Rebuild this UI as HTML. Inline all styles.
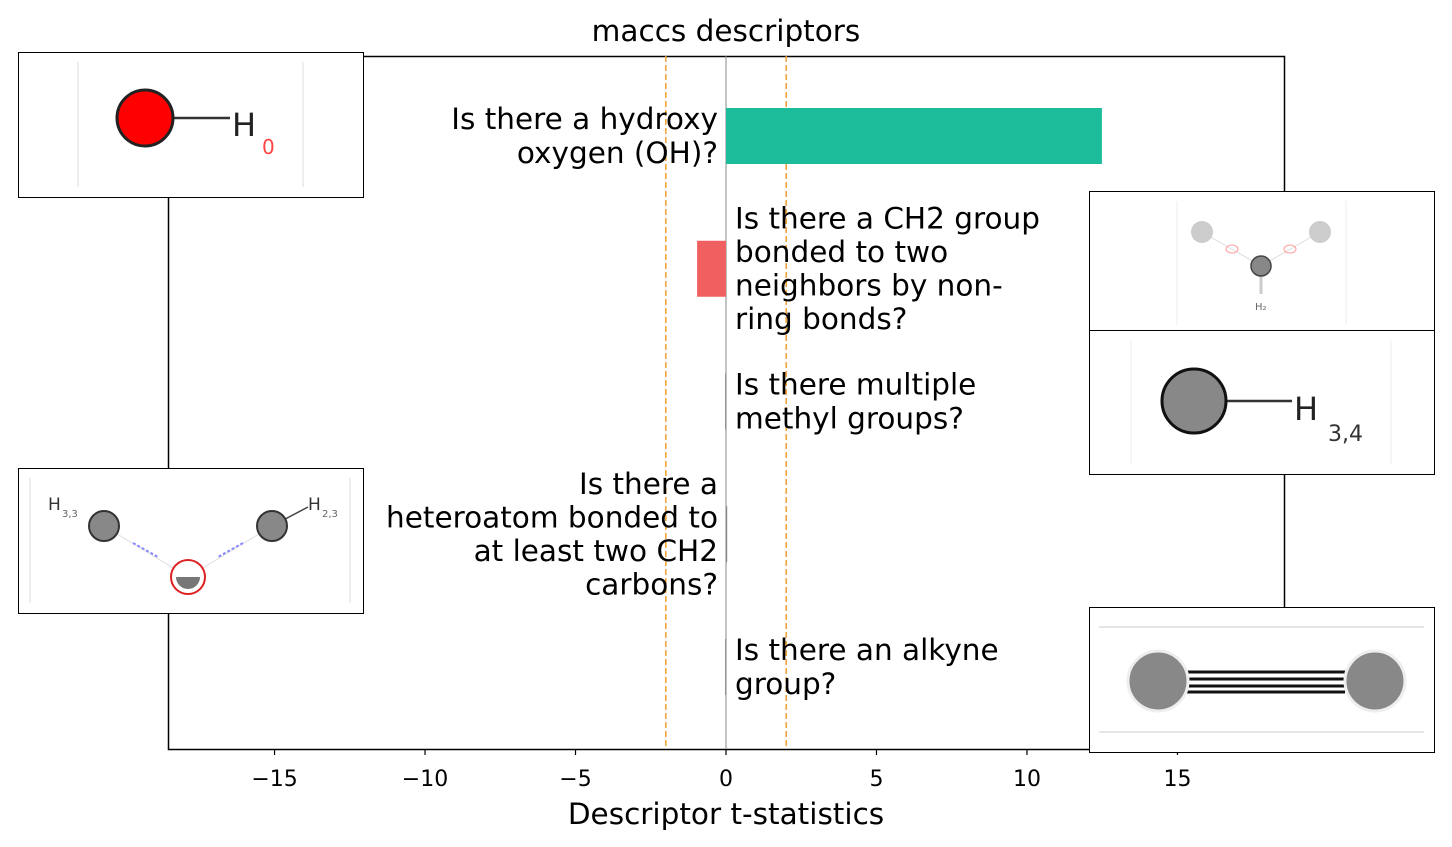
<!DOCTYPE html>
<html><head><meta charset="utf-8"><style>
html,body{margin:0;padding:0;background:#fff;}
svg{display:block;font-family:"DejaVu Sans","Liberation Sans",sans-serif;}
</style></head><body>
<svg id="c" width="1452" height="847" viewBox="0 0 1452 847">
<text x="726" y="41" font-size="29.5" text-anchor="middle">maccs descriptors</text>
<g id="plot"></g>
<text x="726" y="824" font-size="29.5" text-anchor="middle">Descriptor t-statistics</text>

<g>
<rect x="18.5" y="52.5" width="345" height="145" fill="#fff" stroke="#000"/>
<line x1="78" y1="62" x2="78" y2="187" stroke="#ddd"/><line x1="303" y1="62" x2="303" y2="187" stroke="#ddd"/>
<line x1="170" y1="118" x2="230" y2="118" stroke="#333" stroke-width="2.5"/>
<circle cx="145" cy="118" r="28" fill="#f00" stroke="#222" stroke-width="3"/>
<text x="232" y="136" font-size="32" fill="#222">H</text>
<text x="262" y="154" font-size="20" fill="#f44">0</text>
</g>
<g>
<rect x="1089.5" y="191.5" width="345" height="139" fill="#fff" stroke="#000"/>
<line x1="1177" y1="201" x2="1177" y2="325" stroke="#eee"/><line x1="1346" y1="201" x2="1346" y2="325" stroke="#eee"/>
<line x1="1202" y1="232" x2="1261" y2="266" stroke="#ddd"/><line x1="1320" y1="232" x2="1261" y2="266" stroke="#ddd"/>
<line x1="1261" y1="266" x2="1261" y2="294" stroke="#ccc" stroke-width="3"/>
<circle cx="1202" cy="232" r="11" fill="#ccc"/><circle cx="1320" cy="232" r="11" fill="#ccc"/>
<ellipse cx="1232" cy="249" rx="6" ry="4" fill="none" stroke="#f99"/><ellipse cx="1290" cy="249" rx="6" ry="4" fill="none" stroke="#f99"/>
<circle cx="1261" cy="266" r="10" fill="#888" stroke="#444" stroke-width="1.5"/>
<text x="1255" y="310" font-size="10" fill="#666">H₂</text>
</g>
<g>
<rect x="1089.5" y="330.5" width="345" height="144" fill="#fff" stroke="#000"/>
<line x1="1131" y1="340" x2="1131" y2="464" stroke="#eee"/><line x1="1391" y1="340" x2="1391" y2="464" stroke="#eee"/>
<line x1="1225" y1="401" x2="1292" y2="401" stroke="#333" stroke-width="2.5"/>
<circle cx="1194" cy="401" r="32" fill="#888" stroke="#111" stroke-width="3"/>
<text x="1294" y="420" font-size="32" fill="#222">H</text>
<text x="1328" y="441" font-size="22" fill="#333">3,4</text>
</g>
<g>
<rect x="18.5" y="468.5" width="345" height="145" fill="#fff" stroke="#000"/>
<line x1="30" y1="478" x2="30" y2="603" stroke="#ddd"/><line x1="350" y1="478" x2="350" y2="603" stroke="#ddd"/>
<line x1="104" y1="526" x2="188" y2="577" stroke="#ddd"/><line x1="272" y1="526" x2="188" y2="577" stroke="#ddd"/>
<line x1="133" y1="543" x2="158" y2="557" stroke="#88f" stroke-width="2" stroke-dasharray="3 2"/>
<line x1="243" y1="543" x2="218" y2="557" stroke="#88f" stroke-width="2" stroke-dasharray="3 2"/>
<line x1="272" y1="526" x2="308" y2="507" stroke="#444" stroke-width="1.5"/>
<circle cx="104" cy="526" r="15" fill="#888" stroke="#333" stroke-width="2"/>
<circle cx="272" cy="526" r="15" fill="#888" stroke="#333" stroke-width="2"/>
<circle cx="188" cy="577" r="17" fill="#fff" stroke="#d22" stroke-width="2"/>
<path d="M176 577 A12 12 0 0 0 200 577 Z" fill="#777"/>
<text x="48" y="510" font-size="17" fill="#333">H</text><text x="62" y="517" font-size="10" fill="#666">3,3</text>
<text x="308" y="510" font-size="17" fill="#333">H</text><text x="322" y="517" font-size="10" fill="#666">2,3</text>
</g>
<g>
<rect x="1089.5" y="607.5" width="345" height="145" fill="#fff" stroke="#000"/>
<line x1="1099" y1="627" x2="1424" y2="627" stroke="#ccc"/><line x1="1099" y1="732" x2="1424" y2="732" stroke="#ccc"/>
<line x1="1185" y1="672" x2="1345" y2="672" stroke="#111" stroke-width="3"/>
<line x1="1185" y1="679" x2="1345" y2="679" stroke="#111" stroke-width="3"/>
<line x1="1185" y1="686" x2="1345" y2="686" stroke="#111" stroke-width="3"/>
<line x1="1185" y1="692" x2="1345" y2="692" stroke="#111" stroke-width="3"/>
<circle cx="1158" cy="681" r="30" fill="#888" stroke="#eee" stroke-width="3"/>
<circle cx="1375" cy="681" r="30" fill="#888" stroke="#eee" stroke-width="3"/>
</g>
</svg>
<script>
const labels = [
 ["Is there a hydroxy","oxygen (OH)?"],
 ["Is there a CH2 group","bonded to two","neighbors by non-","ring bonds?"],
 ["Is there multiple","methyl groups?"],
 ["Is there a","heteroatom bonded to","at least two CH2","carbons?"],
 ["Is there an alkyne","group?"]
];
const values = [12.49, -0.96, -0.03, 0.03, -0.03];
const xTicks = [-15,-10,-5,0,5,10,15];
const thresholds = [-2, 2];
const NS="http://www.w3.org/2000/svg";
const g=document.getElementById('plot');
const X0=168,X1=1284,Y0=56,Y1=749,xmin=-18.54,xmax=18.54;
const xs=v=>X0+(v-xmin)/(xmax-xmin)*(X1-X0);
const ys=i=>136+i*132.75;
function mk(t,a){const e=document.createElementNS(NS,t);for(const k in a)e.setAttribute(k,a[k]);g.appendChild(e);return e;}
let e;
e=mk('rect',{x:X0+.5,y:Y0+.5,width:X1-X0,height:Y1-Y0,fill:'none',stroke:'#000','stroke-width':1.5});


e=mk('line',{x1:xs(0),x2:xs(0),y1:Y0,y2:Y1,stroke:'#888','stroke-width':1});


thresholds.forEach(t=>{
 const l=mk('line',{x1:xs(t),x2:xs(t),y1:Y0,y2:Y1,stroke:'#f0a030','stroke-width':1.5,'stroke-dasharray':'6 3'});
 
 
});
values.forEach((v,i)=>{
 const a=xs(Math.min(0,v)),b=xs(Math.max(0,v));
 const r=mk('rect',{x:a,y:ys(i)-28,width:Math.max(b-a,1.2),height:56,fill:v>0.5?'#1dbd9c':(v<-0.5?'#f06060':'#888')});
 
 
 const ls=labels[i],n=ls.length,right=v<=0;
 ls.forEach((s,j)=>{
  const t=mk('text',{x:right?735:718,y:ys(i)+(j-(n-1)/2)*33.6+10,'font-size':29.5,'text-anchor':right?'start':'end'});
  t.textContent=s;
  
  
 });
});
xTicks.forEach(t=>{
 const l=mk('line',{x1:xs(t),x2:xs(t),y1:Y1,y2:Y1+6,stroke:'#000','stroke-width':1.2});
 
 
 const tx=mk('text',{x:xs(t),y:786,'font-size':22,'text-anchor':'middle'});
 tx.textContent=t<0?'\u2212'+(-t):String(t);
 
 
});
const svg=document.getElementById('c');svg.insertBefore(g,svg.children[1]);
</script>
</body></html>
